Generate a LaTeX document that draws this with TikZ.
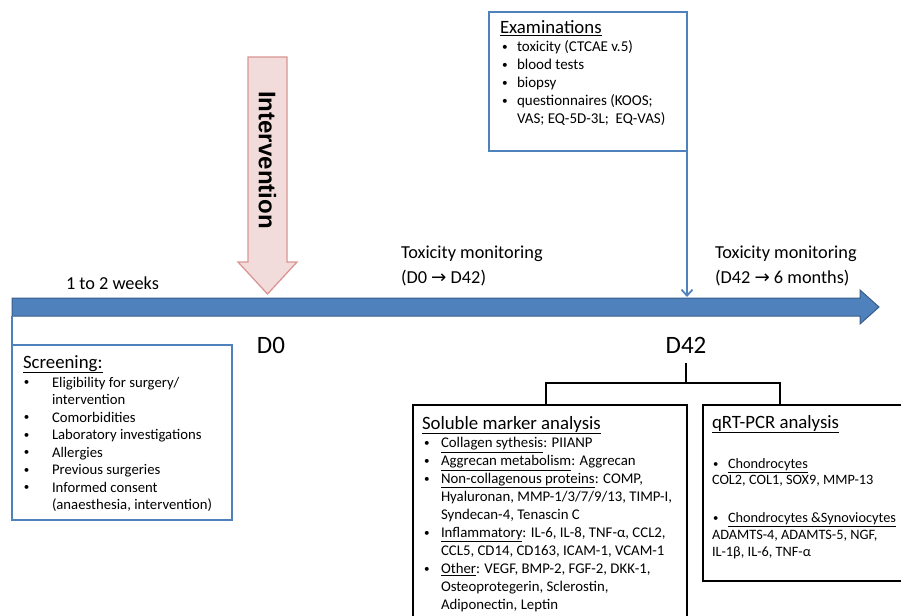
\documentclass[tikz,border=0pt]{standalone}
\usepackage{fontspec}
\setmainfont{Carlito}
\newfontfamily\armfont{Liberation Sans}
\newfontfamily\symfont{DejaVu Sans}
\usetikzlibrary{arrows.meta}

\definecolor{tlblue}{HTML}{4F81BD}
\definecolor{tledge}{HTML}{385D8A}
\definecolor{pinkfill}{HTML}{F2DCDB}
\definecolor{pinkedge}{HTML}{D99694}

\newcommand{\itembul}[1][16pt]{\makebox[#1][l]{\hspace{1pt}\raisebox{0.08em}{\scalebox{0.75}{\textbullet}}}}
\newcommand{\contln}[1][16pt]{\hspace*{#1}}
\newcommand{\rarr}{{\symfont →}}

\begin{document}
\begin{tikzpicture}[x=1pt, y=-1pt, every node/.style={inner sep=0pt, outer sep=0pt},
  blubox/.style={draw=tlblue, line width=1.8pt, fill=white, anchor=north west},
  blkbox/.style={draw=black, line width=2.4pt, fill=white, anchor=north west},
  boxtitle/.style={anchor=base west, font=\fontsize{18.8}{22}\selectfont},
  boxlist/.style={anchor=base west, align=left},
  lbl/.style={anchor=base west, align=left, font=\fontsize{18.3}{25}\selectfont},
  daylbl/.style={font=\fontsize{25}{30}\selectfont},
  bracket/.style={draw=black, line width=1.5pt}]
  \useasboundingbox (0,0) rectangle (901,615);

  % time line
  \draw[fill=tlblue, draw=tledge, line width=1pt] (12,298) -- (860,298) -- (860,290) -- (879,307) -- (860,324) -- (860,316) -- (12,316) -- cycle;
  \coordinate (tl0) at (12,316);
  \coordinate (d42top) at (687,297);

  % intervention
  \draw[fill=pinkfill, draw=pinkedge, line width=1.3pt] (248,57) -- (287,57) -- (287,262) -- (297,262) -- (267.5,294) -- (238,262) -- (248,262) -- cycle;
  \node[rotate=-90, font=\armfont\fontsize{24}{28}\selectfont\bfseries] (interv) at (267.5,160) {Intervention};

  % multi-line nodes sit on their last baseline
  \node[lbl] (wks) at (66,289) {1 to 2 weeks};
  \node[lbl] (tox1) at (401,283) {Toxicity monitoring\\(D0 \rarr{} D42)};
  \node[lbl] (tox2) at (715,283) {Toxicity monitoring\\(D42 \rarr{} 6 months)};
  \node[daylbl] (d0) at (271,345) {D0};
  \node[daylbl] (d42) at (686,345) {D42};

  % examinations at D42
  \node[blubox, minimum width=198pt, minimum height=139pt] (exam) at (489,12) {};
  \node[boxtitle] (examttl) at (500,34) {\underline{Examinations}};
  \node[boxlist, font=\fontsize{15}{18}\selectfont] (examlst) at (501,124) {\itembul toxicity (CTCAE v.5)\\
    \itembul blood tests\\
    \itembul biopsy\\
    \itembul questionnaires (KOOS;\\
    \contln VAS; EQ-5D-3L;\ \ EQ-VAS)};
  \draw[tlblue, line width=1.8pt, -{Straight Barb[length=6pt, width=11pt]}] (exam.south east) -- (d42top);

  % screening
  \node[blubox, minimum width=220pt, minimum height=175pt] (scr) at (12,345) {};
  \draw[tlblue, line width=1.5pt] (tl0) -- (scr.north west);
  \node[boxtitle] (scrttl) at (23,368) {\underline{Screening:}};
  \node[boxlist, font=\fontsize{14.7}{17.5}\selectfont] (scrlst) at (23,509.5) {\itembul[29pt]Eligibility for surgery/\\
    \contln[29pt]intervention\\
    \itembul[29pt]Comorbidities\\
    \itembul[29pt]Laboratory investigations\\
    \itembul[29pt]Allergies\\
    \itembul[29pt]Previous surgeries\\
    \itembul[29pt]Informed consent\\
    \contln[29pt](anaesthesia, intervention)};

  % analyses
  \node[blkbox, minimum width=274pt, minimum height=230pt] (sol) at (413,405) {};
  \node[blkbox, minimum width=215pt, minimum height=176pt] (pcr) at (703,405) {};
  \coordinate (legL) at (546,383);
  \coordinate (legR) at (780,383);
  \draw[bracket] ([yshift=-10pt]d42.south) -- (d42.south |- legL);
  \draw[bracket] (sol.north -| legL) -- (legL) -- (legR) -- (pcr.north -| legR);

  \node[boxtitle] (solttl) at (422,429) {\underline{Soluble marker analysis}};
  \node[boxlist, font=\fontsize{14.8}{17.9}\selectfont] (sollst) at (423,609) {\itembul[18pt]\underline{Collagen sythesis}: PIIANP\\
    \itembul[18pt]\underline{Aggrecan metabolism}: Aggrecan\\
    \itembul[18pt]\underline{Non-collagenous proteins}: COMP,\\
    \contln[18pt]Hyaluronan, MMP-1/3/7/9/13, TIMP-I,\\
    \contln[18pt]Syndecan-4, Tenascin C\\
    \itembul[18pt]\underline{Inflammatory}: IL-6, IL-8, TNF-α, CCL2,\\
    \contln[18pt]CCL5, CD14, CD163, ICAM-1, VCAM-1\\
    \itembul[18pt]\underline{Other}: VEGF, BMP-2, FGF-2, DKK-1,\\
    \contln[18pt]Osteoprotegerin, Sclerostin,\\
    \contln[18pt]Adiponectin, Leptin};

  \node[boxtitle] (pcrttl) at (712,428) {\underline{qRT-PCR analysis}};
  \node[boxlist, font=\fontsize{14.3}{16.7}\selectfont] (pcrlst) at (712,556) {\itembul\underline{Chondrocytes}\\
    COL2, COL1, SOX9, MMP-13\\[21pt]
    \itembul\underline{Chondrocytes \&Synoviocytes}\\
    ADAMTS-4, ADAMTS-5, NGF,\\
    IL-1β, IL-6, TNF-α};
\end{tikzpicture}
\end{document}
